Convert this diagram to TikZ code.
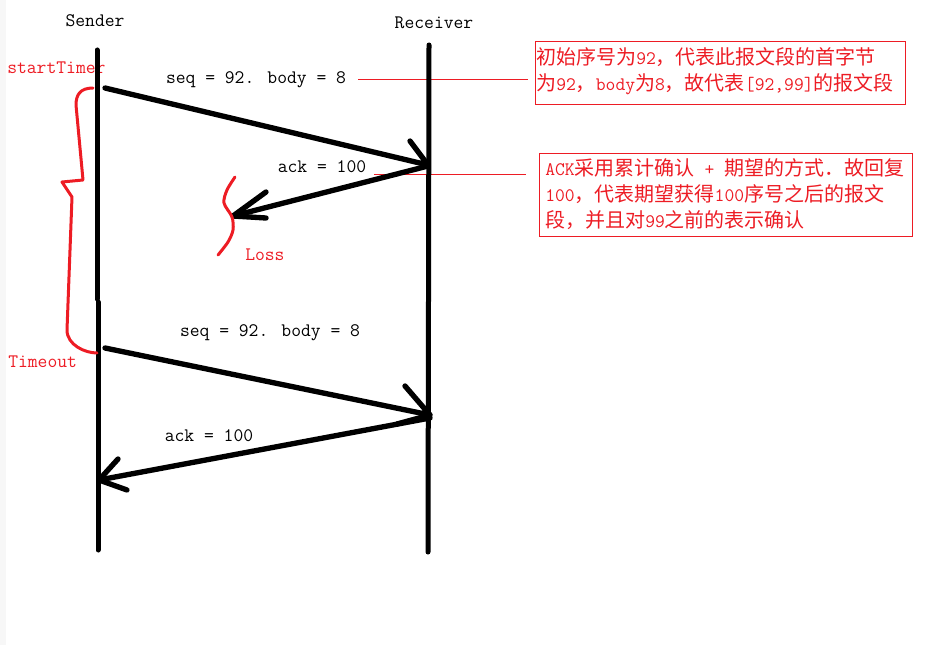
\documentclass[tikz,border=0pt]{standalone}
\usepackage{fontspec}
\newfontfamily\cjkfont{Noto Sans CJK SC}
\newcommand\zh[1]{{\cjkfont\fontsize{15}{18}\selectfont #1}}
\definecolor{pred}{RGB}{237,28,36}
\begin{document}
\begin{tikzpicture}[x=0.75pt,y=-0.75pt,
  lbl/.style={font=\ttfamily\fontsize{14.3}{17}\selectfont, inner sep=0},
  rlbl/.style={lbl, text=pred},
  life/.style={line width=3.75pt, line cap=round},
  msg/.style={line width=4pt, line cap=round, line join=round},
  hand/.style={pred, line width=2.25pt, line cap=round, line join=round},
  notebox/.style={draw=pred, line width=0.75pt, inner sep=0},
  noteline/.style={pred, line width=0.75pt},
  zhline/.style={text=pred, font=\ttfamily\fontsize{14.3}{17}\selectfont, inner sep=0, anchor=base west}]
\useasboundingbox (0,0) rectangle (949,645);
\fill[gray!6] (0,0) rectangle (6,645);

% titles and labels
\node[lbl] (snd) at (95,21) {Sender};
\node[lbl] (rcv) at (434,23) {Receiver};
\node[rlbl, anchor=west] (st) at (7,68) {startTimer};
\node[rlbl, anchor=west] (to) at (8,362) {Timeout};
\node[rlbl, anchor=west] (loss) at (245,255) {Loss};
\node[lbl] (seq1) at (256,80) {seq = 92. body = 8};
\node[lbl] (ack1) at (322,167) {ack = 100};
\node[lbl] (seq2) at (270,333) {seq = 92. body = 8};
\node[lbl] (ack2) at (209,436) {ack = 100};

% note boxes
\node[notebox, minimum width=277.5pt, minimum height=47.25pt] (b1) at (720,73.5) {};
\node[notebox, minimum width=279.75pt, minimum height=62.25pt] (b2) at (725.5,195.5) {};
\node[zhline] (b1a) at (536,65) {\zh{初始序号为}92\zh{，代表此报文段的首字节}};
\node[zhline] (b1b) at (536,91) {\zh{为}92\zh{，}body\zh{为}8\zh{，故代表}[92,99]\zh{的报文段}};
\node[zhline] (b2a) at (545,176) {ACK\zh{采用累计确认} + \zh{期望的方式．故回复}};
\node[zhline] (b2b) at (545,202) {100\zh{，代表期望获得}100\zh{序号之后的报文}};
\node[zhline] (b2c) at (545,228) {\zh{段，并且对}99\zh{之前的表示确认}};

% note connectors
\coordinate (c1s) at (358,80);
\coordinate (c1e) at (528,80);
\coordinate (c2s) at (374,175);
\coordinate (c2e) at (526,175);
\draw[noteline] (c1s) -- (c1e);
\draw[noteline] (c2s) -- (c2e);

% lifelines
\coordinate (sT) at (97,50);
\coordinate (sM1) at (97,299);
\coordinate (sM2) at (98,302);
\coordinate (sB) at (98,550);
\coordinate (rT) at (429,45);
\coordinate (rB) at (428,552);
\draw[life] (sT) -- (sM1);
\draw[life] (sM2) -- (sB);
\draw[life] (rT) -- (rB);

% message 1
\coordinate (m1s) at (105,88);
\coordinate (m1e) at (428,165);
\coordinate (m1h) at (410,141);
\draw[msg] (m1s) -- (m1e) -- (m1h);
% message 2 (lost ack)
\coordinate (m2s) at (428,166);
\coordinate (m2e) at (233,216);
\coordinate (m2h1) at (266,192);
\coordinate (m2h2) at (266,218);
\draw[msg] (m2s) -- (m2e);
\draw[msg] (m2h1) -- (m2e) -- (m2h2);
% message 3
\coordinate (m3s) at (105,348);
\coordinate (m3e) at (430,415);
\coordinate (m3h1) at (405,386);
\coordinate (m3h2) at (397,424);
\draw[msg] (m3s) -- (m3e) -- (m3h1);
\draw[msg] (m3e) -- (m3h2);
% message 4
\coordinate (m4s) at (430,418);
\coordinate (m4e) at (99,480);
\coordinate (m4h1) at (118,459);
\coordinate (m4h2) at (127,490);
\draw[msg] (m4s) -- (m4e);
\draw[msg] (m4h1) -- (m4e) -- (m4h2);

% red hand drawings
\draw[hand] (93,88) .. controls (80,88) and (76,95) .. (76,105) -- (83,180) -- (62,182) -- (72,197) -- (67,330) .. controls (67,345) and (85,353) .. (97,353);
\draw[hand] plot[smooth] coordinates {(235,177) (227,190) (224,203) (232,217) (233,230) (228,242) (218,255)};
\end{tikzpicture}
\end{document}
